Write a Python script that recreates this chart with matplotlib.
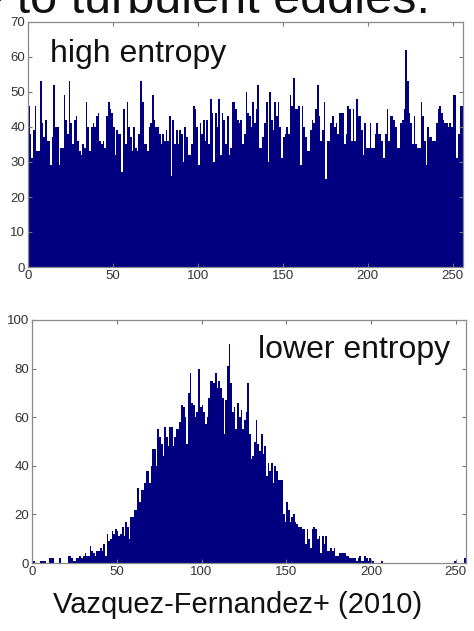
import numpy as np
import matplotlib
matplotlib.use("Agg")
import matplotlib.pyplot as plt

plt.rcParams['font.family'] = ['Liberation Sans', 'DejaVu Sans']

# histogram counts, 256 grey levels each
high_entropy = [
    46, 38, 31, 39, 46, 33, 33, 53, 41, 37, 42, 36, 36, 29, 37, 52,
    40, 40, 29, 34, 34, 49, 42, 38, 53, 41, 35, 42, 43, 36, 33, 32,
    35, 34, 47, 40, 33, 40, 41, 40, 43, 44, 36, 35, 36, 34, 43, 47,
    45, 44, 40, 32, 39, 38, 38, 27, 45, 35, 47, 40, 37, 33, 40, 34,
    33, 38, 53, 47, 35, 35, 33, 40, 41, 49, 42, 40, 40, 38, 35, 38,
    36, 39, 36, 43, 26, 42, 35, 39, 35, 39, 38, 30, 40, 37, 32, 32,
    35, 46, 45, 40, 29, 41, 38, 42, 36, 42, 35, 48, 44, 30, 44, 40,
    48, 32, 44, 42, 35, 43, 32, 34, 47, 47, 45, 42, 41, 42, 35, 38,
    50, 44, 43, 40, 47, 41, 45, 52, 34, 34, 37, 41, 47, 30, 50, 42,
    39, 47, 43, 47, 40, 31, 37, 38, 40, 38, 49, 46, 54, 45, 45, 46,
    29, 46, 40, 37, 33, 33, 39, 42, 41, 45, 52, 43, 36, 39, 47, 25,
    36, 36, 41, 43, 40, 41, 38, 44, 44, 44, 35, 38, 46, 45, 36, 45,
    36, 48, 43, 43, 39, 32, 41, 34, 34, 41, 34, 34, 38, 41, 38, 38,
    36, 31, 38, 45, 36, 43, 43, 42, 40, 34, 34, 41, 42, 45, 62, 53,
    44, 41, 35, 43, 35, 34, 34, 47, 43, 36, 29, 40, 37, 37, 36, 36,
    41, 45, 46, 44, 42, 41, 41, 40, 41, 40, 49, 49, 31, 38, 46, 46,
]

lower_entropy = [
    1, 1, 0, 0, 0, 1, 1, 1, 0, 0, 2, 2, 2, 0, 0, 0,
    2, 0, 0, 0, 0, 3, 3, 2, 1, 1, 2, 2, 3, 2, 3, 4,
    3, 3, 7, 5, 4, 3, 5, 5, 6, 5, 8, 3, 12, 9, 10, 13,
    12, 14, 13, 11, 12, 15, 11, 17, 15, 10, 19, 19, 22, 22, 31, 25,
    30, 30, 33, 38, 38, 33, 40, 47, 47, 40, 55, 52, 49, 44, 56, 52,
    48, 56, 56, 48, 52, 55, 55, 58, 65, 64, 60, 49, 70, 78, 66, 65,
    60, 62, 80, 64, 65, 62, 57, 60, 68, 75, 75, 74, 78, 72, 75, 72,
    68, 53, 67, 81, 90, 74, 62, 64, 55, 66, 60, 63, 55, 59, 62, 74,
    53, 43, 44, 50, 59, 49, 46, 53, 45, 48, 36, 41, 38, 41, 33, 40,
    38, 34, 34, 34, 20, 17, 25, 22, 17, 19, 20, 17, 16, 15, 15, 14,
    14, 8, 14, 10, 6, 14, 15, 14, 10, 11, 4, 11, 8, 11, 5, 5,
    6, 5, 6, 3, 3, 4, 4, 4, 4, 3, 3, 2, 2, 2, 2, 1,
    2, 3, 1, 1, 3, 2, 1, 2, 1, 1, 0, 0, 0, 0, 1, 0,
    0, 0, 0, 0, 0, 0, 0, 0, 0, 0, 0, 0, 0, 0, 0, 0,
    0, 0, 0, 0, 0, 0, 0, 0, 0, 0, 0, 0, 0, 0, 0, 0,
    0, 0, 0, 0, 0, 0, 0, 0, 0, 1, 0, 0, 0, 0, 0, 2,
]

xticks = [0, 50, 100, 150, 200, 250]
yticks_top = [0, 10, 20, 30, 40, 50, 60, 70]
yticks_bottom = [0, 20, 40, 60, 80, 100]

W, H = 474, 631
fig = plt.figure(figsize=(W / 100, H / 100), dpi=100)

# heading from the slide, cut off at the top edge
fig.text(430 / W, 1 - 13 / H, "due to turbulent eddies.", ha='right',
         va='baseline', fontsize=35, color='#111111')


def style_axes(ax, yticks, ymax):
    ax.set_xlim(0, 256)
    ax.set_ylim(0, ymax)
    ax.set_xticks(xticks)
    ax.set_yticks(yticks)
    ax.tick_params(direction='in', length=3, width=0.8, color='#777777',
                   top=True, right=True, labelsize=9.5, labelcolor='#333333',
                   pad=2)
    for s in ax.spines.values():
        s.set_color('#8a8a8a')
        s.set_linewidth(0.9)


bins = np.arange(256)

ax1 = fig.add_axes([28 / W, 1 - 267 / H, 435 / W, 245 / H])
ax1.bar(bins, high_entropy, width=1.0, align='edge', color='#000080',
        linewidth=0)
style_axes(ax1, yticks_top, 70)
ax1.text(0.05, 0.837, "high entropy", transform=ax1.transAxes,
         fontsize=23, va='baseline', ha='left', color='#111111')

ax2 = fig.add_axes([32 / W, 1 - 563 / H, 434 / W, 243 / H])
ax2.bar(bins, lower_entropy, width=1.0, align='edge', color='#000080',
        linewidth=0)
style_axes(ax2, yticks_bottom, 100)
ax2.text(0.521, 0.844, "lower entropy", transform=ax2.transAxes,
         fontsize=23, va='baseline', ha='left', color='#111111')

fig.text(237.5 / W, 1 - 613 / H, "Vazquez-Fernandez+ (2010)", ha='center',
         va='baseline', fontsize=21, color='#111111')

fig.savefig("out.png", dpi=100)
